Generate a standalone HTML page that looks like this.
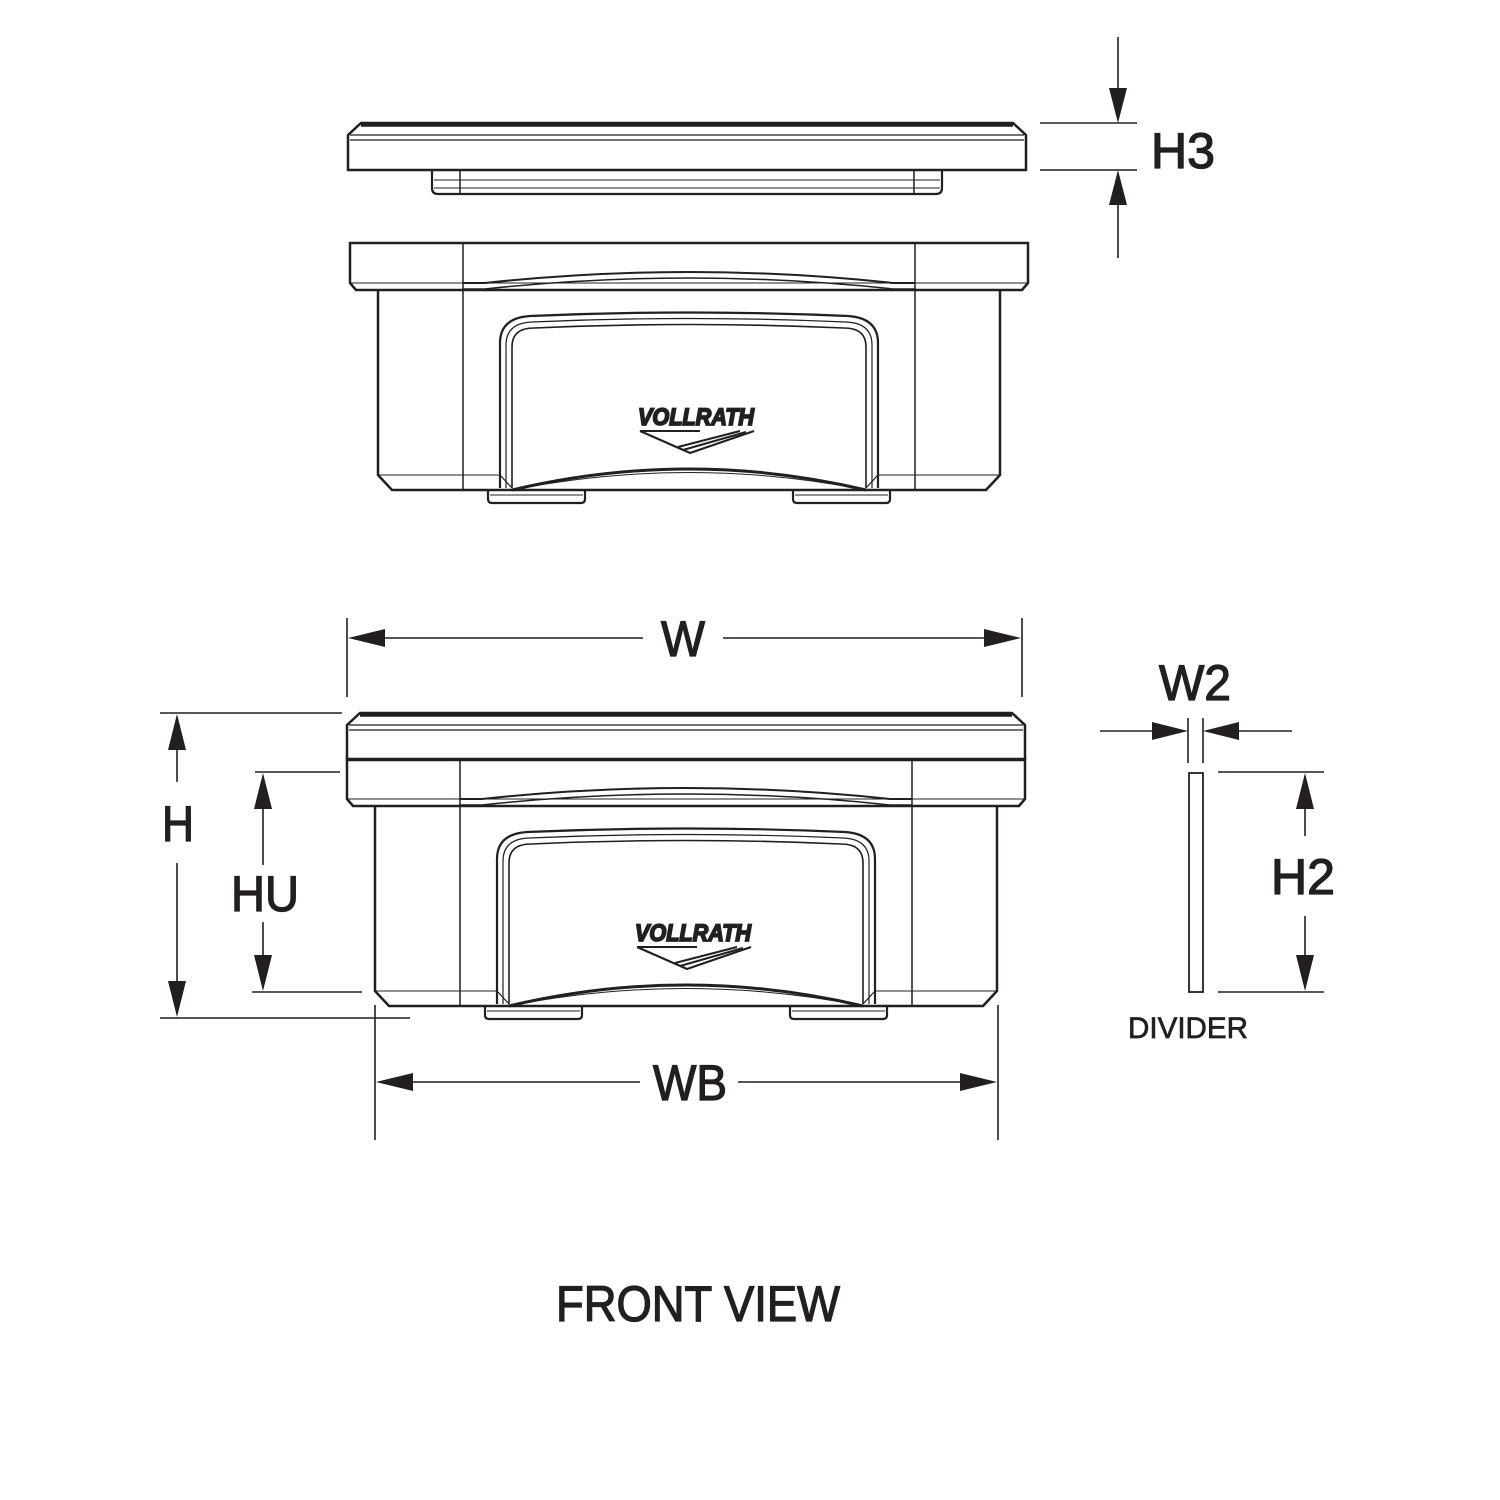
<!DOCTYPE html>
<html><head><meta charset="utf-8"><style>
html,body{margin:0;padding:0;background:#fff;}
svg{display:block;}
text{font-family:"Liberation Sans",sans-serif;fill:#231f20;}
</style></head><body>
<svg width="1500" height="1500" viewBox="0 0 1500 1500" xmlns="http://www.w3.org/2000/svg">
<defs>
  <g id="logo">
    <text x="-2" y="2" font-size="24" font-weight="bold" font-style="italic" fill="#fff" stroke="#231f20" stroke-width="1.8" textLength="116" lengthAdjust="spacingAndGlyphs">VOLLRATH</text>
    <path d="M0,8 L50,30 L114,8" fill="none" stroke="#231f20" stroke-width="2.2"/>
    <path d="M0,8 L60,8 M38,24 L100,8 M43,27 L106,9" fill="none" stroke="#231f20" stroke-width="2"/>
  </g>
  <g id="box" fill="none" stroke="#231f20">
    <path d="M0,0 H678 V40 L672,47 H6 L0,40 Z" stroke-width="2.5"/>
    <line x1="0" y1="40" x2="678" y2="40" stroke-width="1"/>
    <line x1="113" y1="0" x2="113" y2="247" stroke-width="1.5"/>
    <line x1="565" y1="0" x2="565" y2="247" stroke-width="1.5"/>
    <path d="M113,40 L135,40 Q339,18 543,40 L565,40" stroke-width="2"/>
    <path d="M113,46 L135,46 Q339,24 543,46 L565,46" stroke-width="1.5"/>
    <path d="M28,47 V232 L42,247 H636 L650,232 V47" stroke-width="2.5"/>
    <line x1="28" y1="232" x2="150" y2="232" stroke-width="1"/>
    <line x1="528" y1="232" x2="650" y2="232" stroke-width="1"/>
    <path d="M150,245 V100 Q150,75 180,73 Q339,66 498,73 Q528,75 528,100 V245" stroke-width="2.2"/>
    <path d="M156,245 V102 Q156,80 182,79 Q339,72 496,79 Q522,80 522,102 V245" stroke-width="1.2"/>
    <path d="M162,245 V104 Q162,85 184,85 Q339,78 494,85 Q516,85 516,104 V245" stroke-width="1.6"/>
    <path d="M150,232 L162,245 M528,232 L516,245" stroke-width="1.2"/>
    <path d="M162,247 Q339,205 516,247" stroke-width="3"/>
    <path d="M162,247 Q339,212 516,247" stroke-width="1"/>
    <path d="M138,247 V256 Q138,260 142,260 H231 Q235,260 235,256 V247" stroke-width="2.2"/>
    <line x1="140" y1="252" x2="233" y2="252" stroke-width="1"/>
    <path d="M443,247 V256 Q443,260 447,260 H536 Q540,260 540,256 V247" stroke-width="2.2"/>
    <line x1="445" y1="252" x2="538" y2="252" stroke-width="1"/>
    <use href="#logo" x="290" y="180"/>
  </g>
  <g id="lid" fill="none" stroke="#231f20">
    <path d="M13,0 H665 L678,12 V47 H0 V12 Z" stroke-width="2.5"/>
    <line x1="13" y1="2" x2="665" y2="2" stroke-width="3.5"/>
    <line x1="2" y1="12" x2="676" y2="12" stroke-width="1.2"/>
    <line x1="2" y1="17" x2="676" y2="17" stroke-width="1.2"/>
  </g>
</defs>

<use href="#lid" x="348" y="123"/>
<g fill="none" stroke="#231f20">
  <path d="M432,170 V188 Q432,194 438,194 H936 Q942,194 942,188 V170" stroke-width="2.2"/>
  <line x1="434" y1="180" x2="940" y2="180" stroke-width="1"/>
  <line x1="434" y1="188" x2="940" y2="188" stroke-width="1"/>
  <line x1="460" y1="170" x2="460" y2="194" stroke-width="1.5"/>
  <line x1="914" y1="170" x2="914" y2="194" stroke-width="1.5"/>
</g>

<use href="#box" x="350" y="243"/>

<use href="#lid" x="347" y="713"/>
<use href="#box" x="347" y="759"/>

<g stroke="#231f20" stroke-width="1.6" fill="none">
  <line x1="1118" y1="37" x2="1118" y2="100"/>
  <line x1="1118" y1="193" x2="1118" y2="258"/>
  <line x1="1040" y1="123" x2="1137" y2="123"/>
  <line x1="1040" y1="170" x2="1137" y2="170"/>
  <line x1="347" y1="618" x2="347" y2="697"/>
  <line x1="1022" y1="618" x2="1022" y2="697"/>
  <line x1="380" y1="638" x2="643" y2="638"/>
  <line x1="723" y1="638" x2="990" y2="638"/>
  <line x1="160" y1="713" x2="342" y2="713"/>
  <line x1="160" y1="1018" x2="410" y2="1018"/>
  <line x1="177" y1="745" x2="177" y2="782"/>
  <line x1="177" y1="863" x2="177" y2="985"/>
  <line x1="255" y1="772" x2="340" y2="772"/>
  <line x1="252" y1="992" x2="362" y2="992"/>
  <line x1="263" y1="805" x2="263" y2="865"/>
  <line x1="263" y1="922" x2="263" y2="960"/>
  <line x1="375" y1="1005" x2="375" y2="1140"/>
  <line x1="998" y1="1005" x2="998" y2="1140"/>
  <line x1="410" y1="1082" x2="640" y2="1082"/>
  <line x1="738" y1="1082" x2="965" y2="1082"/>
  <line x1="1100" y1="731" x2="1155" y2="731"/>
  <line x1="1236" y1="731" x2="1292" y2="731"/>
  <line x1="1188" y1="718" x2="1188" y2="763"/>
  <line x1="1203" y1="718" x2="1203" y2="763"/>
  <line x1="1218" y1="772" x2="1324" y2="772"/>
  <line x1="1218" y1="992" x2="1324" y2="992"/>
  <line x1="1305" y1="805" x2="1305" y2="836"/>
  <line x1="1305" y1="916" x2="1305" y2="960"/>
</g>
<rect x="1189" y="773" width="14" height="219" fill="none" stroke="#231f20" stroke-width="1.8"/>
<g fill="#231f20">
  <polygon points="1118,123 1109,88 1127,88"/>
  <polygon points="1118,170 1109,205 1127,205"/>
  <polygon points="348,638 385,629 385,647"/>
  <polygon points="1021,638 984,629 984,647"/>
  <polygon points="177,714 168,750 186,750"/>
  <polygon points="177,1017 168,981 186,981"/>
  <polygon points="263,773 254,809 272,809"/>
  <polygon points="263,991 254,955 272,955"/>
  <polygon points="376,1082 413,1073 413,1091"/>
  <polygon points="997,1082 960,1073 960,1091"/>
  <polygon points="1188,731 1152,722 1152,740"/>
  <polygon points="1203,731 1239,722 1239,740"/>
  <polygon points="1305,773 1296,809 1314,809"/>
  <polygon points="1305,991 1296,955 1314,955"/>
</g>
<g font-size="50" text-anchor="middle" stroke="#231f20" stroke-width="1.3">
  <text x="1183" y="168" textLength="64" lengthAdjust="spacingAndGlyphs">H3</text>
  <text x="683" y="656" textLength="44" lengthAdjust="spacingAndGlyphs">W</text>
  <text x="178" y="841" textLength="32" lengthAdjust="spacingAndGlyphs">H</text>
  <text x="265" y="911" textLength="68" lengthAdjust="spacingAndGlyphs">HU</text>
  <text x="690" y="1100" textLength="74" lengthAdjust="spacingAndGlyphs">WB</text>
  <text x="1195" y="700" textLength="72" lengthAdjust="spacingAndGlyphs">W2</text>
  <text x="1303" y="894" textLength="64" lengthAdjust="spacingAndGlyphs">H2</text>
</g>
<text x="1188" y="1038" font-size="30" text-anchor="middle" stroke="#231f20" stroke-width="0.7" textLength="120" lengthAdjust="spacingAndGlyphs">DIVIDER</text>
<text x="698" y="1321" font-size="50" text-anchor="middle" stroke="#231f20" stroke-width="1.3" textLength="284" lengthAdjust="spacingAndGlyphs">FRONT VIEW</text>
</svg>
</body></html>
